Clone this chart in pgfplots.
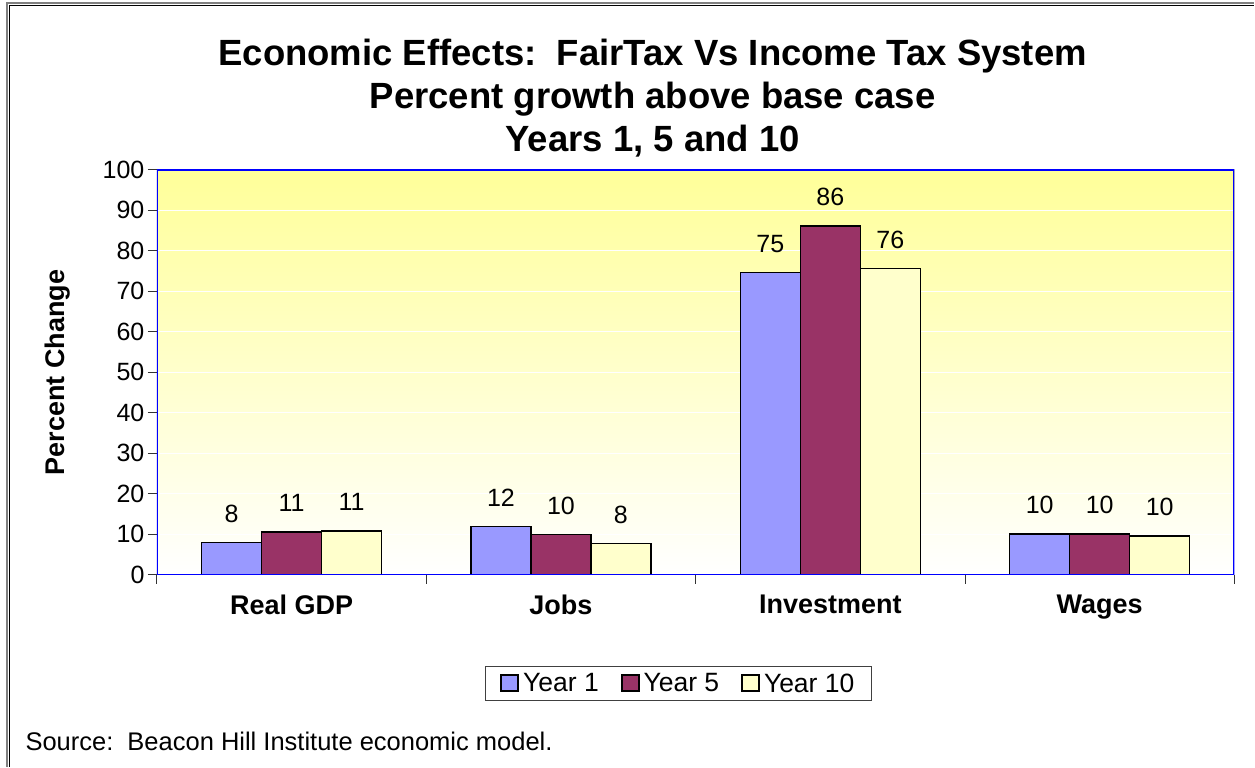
\documentclass[border=0pt]{standalone}
\usepackage{fontspec}
\setmainfont{Liberation Sans}
\usepackage{pgfplots}
\pgfplotsset{compat=1.18}

\definecolor{yrone}{HTML}{9999FF}
\definecolor{yrfive}{HTML}{993366}
\definecolor{yrten}{HTML}{FFFFCC}
\definecolor{bgtop}{HTML}{FFFF99}

\newcommand{\fs}[1]{\fontsize{#1}{1.2\dimexpr#1pt\relax}\selectfont}

\begin{document}
\begin{tikzpicture}[x=1pt,y=1pt]
% page and frame
\fill[white] (0,0) rectangle (1255,767);
\draw[gray, line width=1.2pt] (7,0) -- (7,764) -- (1255,764);
\draw[black, line width=1pt] (10,0) -- (10,761) -- (1255,761);

% title
\node[font=\bfseries\fontsize{36.5}{43}\selectfont, align=center] at (653,669)
  {Economic Effects:\ \ FairTax Vs Income Tax System\\
   Percent growth above base case\\
   Years 1, 5 and 10};

\begin{axis}[
  at={(157pt,192pt)}, anchor=south west,
  width=1078pt, height=405pt, scale only axis,
  ymin=0, ymax=100, ytick distance=10,
  xmin=-0.5, xmax=3.5,
  xtick={0,1,2,3},
  xticklabels={Real GDP, Jobs, Investment, Wages},
  minor xtick={-0.5,0.5,1.5,2.5,3.5},
  xtick pos=bottom, ytick pos=left,
  tick align=outside,
  major x tick style={draw=none},
  tick style={black!80, line width=0.9pt},
  major tick length=9pt, minor tick length=9pt,
  axis line style={draw=none},
  ymajorgrids, grid style={white, line width=1.2pt},
  axis background/.style={top color=bgtop, bottom color=white},
  ybar=0pt, bar width=60pt,
  ylabel={\bfseries Percent Change},
  ylabel style={font=\fs{27}, at={(axis description cs:-0.092,0.5)}, anchor=center},
  yticklabel style={font=\fs{25}},
  xticklabel style={font=\bfseries\fs{27}, yshift=-8pt},
  nodes near coords,
  every node near coord/.append style={font=\fs{25}, yshift=16pt},
  legend columns=3,
  legend style={at={(0.484,-0.269)}, anchor=center, draw=black!75,
    line width=0.9pt, font=\fs{26.5}, inner xsep=15pt, inner ysep=5pt,
    /tikz/every odd column/.append style={column sep=2pt},
    /tikz/every even column/.append style={column sep=20pt}},
  every axis plot post/.append style={
    legend image code/.code={\draw[##1, draw=black, line width=1.8pt] (0pt,-7.5pt) rectangle (17pt,8.5pt);}},
  /pgf/number format/.cd, fixed, precision=0, assume math mode=true,
]
\addplot[fill=yrone, draw=black, line width=1.5pt] coordinates {(0,7.9) (1,11.9) (2,74.6) (3,10.0)};
\addplot[fill=yrfive, draw=black, line width=1.5pt] coordinates {(0,10.6) (1,9.9) (2,86.2) (3,10.0)};
\addplot[fill=yrten, draw=black, line width=1.5pt] coordinates {(0,10.8) (1,7.7) (2,75.6) (3,9.6)};
\legend{Year 1, Year 5, Year 10}
\draw[blue, line width=1.8pt] (rel axis cs:0,0) rectangle (rel axis cs:1,1);
\end{axis}

\node[anchor=west, font=\fs{25.5}] at (22,25) {Source:\ \ Beacon Hill Institute economic model.};
\end{tikzpicture}
\end{document}
